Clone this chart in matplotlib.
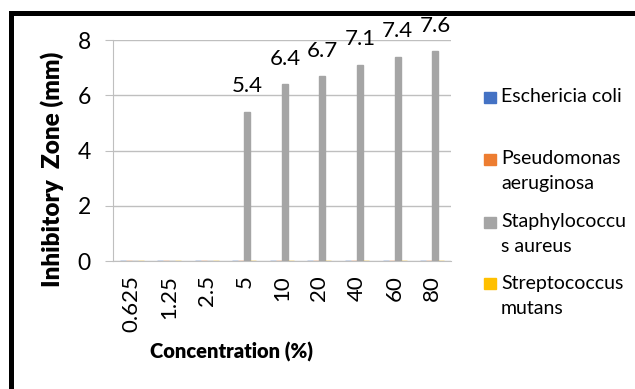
import numpy as np
import matplotlib
matplotlib.use("Agg")
import matplotlib.pyplot as plt
from matplotlib.lines import Line2D
from matplotlib.patches import Rectangle

plt.rcParams['font.family'] = ['Lato', 'DejaVu Sans']

# data
concentrations = ["0.625", "1.25", "2.5", "5", "10", "20", "40", "60", "80"]
series_names = ["Eschericia coli", "Pseudomonas\naeruginosa",
                "Staphylococcu\ns aureus", "Streptococcus\nmutans"]
e_coli = [0, 0, 0, 0, 0, 0, 0, 0, 0]
p_aeruginosa = [0, 0, 0, 0, 0, 0, 0, 0, 0]
s_aureus = [0, 0, 0, 5.4, 6.4, 6.7, 7.1, 7.4, 7.6]
s_mutans = [0, 0, 0, 0, 0, 0, 0, 0, 0]
colors = ["#4472C4", "#ED7D31", "#A5A5A5", "#FFC000"]

W, H = 635, 389
fig = plt.figure(figsize=(W / 100, H / 100), dpi=100)
ax = fig.add_axes([0.178, 0.329, 0.532, 0.568])

x = np.arange(len(concentrations))
w = 0.16
all_series = [e_coli, p_aeruginosa, s_aureus, s_mutans]
for i, vals in enumerate(all_series):
    pos = x + (i - 1.5) * w
    ax.bar(pos, vals, width=w, color=colors[i], edgecolor=colors[i],
           linewidth=1, zorder=3)

# data labels only where staph has a value
for xi, v in zip(x, s_aureus):
    if v > 0:
        ax.annotate(f"{v:g}", (xi + 0.5 * w, v), xytext=(0, 14),
                    textcoords="offset points", ha="center", va="baseline",
                    fontsize=16)

ax.set_xlim(-0.5, len(concentrations) - 0.5)
ax.set_ylim(0, 8)
ax.set_yticks([0, 2, 4, 6, 8])
ax.set_xticks(x)
ax.set_xticklabels(concentrations, rotation=90, fontsize=16)
ax.tick_params(axis="y", labelsize=16.5, length=6, color="#BFBFBF", pad=10)
ax.tick_params(axis="x", length=0, pad=10)
ax.grid(axis="y", color="#BFBFBF", linewidth=1, zorder=0)
for s in ["top", "right"]:
    ax.spines[s].set_visible(False)
ax.spines["left"].set_color("#BFBFBF")
ax.spines["bottom"].set_color("#BFBFBF")

fig.text(52 / W, 1 - 169 / H, "Inhibitory  Zone (mm)", rotation=90,
         fontsize=17.5, fontweight="heavy", ha="center", va="center")
fig.text(232 / W, 1 - 352 / H, "Concentration (%)", fontsize=14.5,
         fontweight="heavy", ha="center", va="center")

# legend drawn by hand so markers line up with the first text line
first_line_y = [97, 159, 222, 283]
line_gap = 25
for name, c, ly in zip(series_names, colors, first_line_y):
    fig.patches.append(Rectangle((484 / W, 1 - (ly + 6) / H), 12 / W, 11 / H,
                                 transform=fig.transFigure, color=c))
    for k, line in enumerate(name.split("\n")):
        fig.text(501 / W, 1 - (ly + k * line_gap) / H, line, fontsize=14,
                 va="center", ha="left")

# black frame on left and top edges
fig.add_artist(Line2D([11 / W, 11 / W], [0, 1 - 12.5 / H], color="black",
                      lw=3.6, solid_capstyle="projecting"))
fig.add_artist(Line2D([11 / W, 1.0], [1 - 12.5 / H, 1 - 12.5 / H],
                      color="black", lw=3.6, solid_capstyle="projecting"))

fig.savefig("out.png", dpi=100)
